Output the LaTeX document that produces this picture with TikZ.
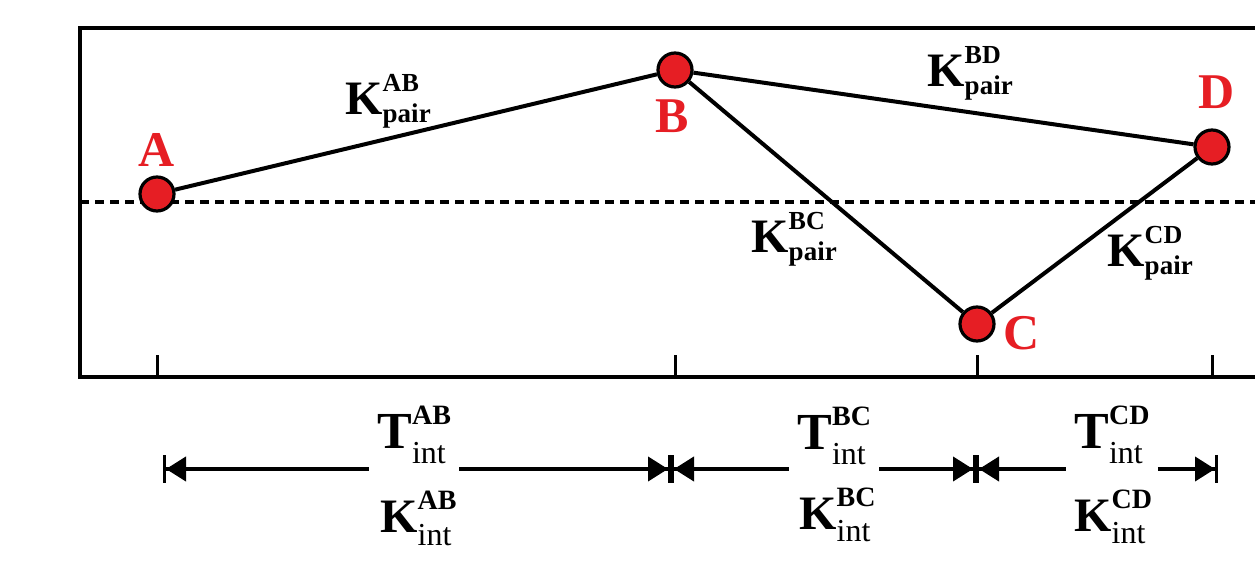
\documentclass[tikz,border=0pt]{standalone}
\usepackage{fontspec}
\setmainfont{Liberation Serif}
\usetikzlibrary{arrows.meta}
\definecolor{ptred}{RGB}{230,30,36}

% letter with stacked super- and subscript: #4 raise, #5 drop
\newdimen\qtywd
\newcommand{\qty}[5]{\textbf{#1}%
  \setbox0=\hbox{#2}\setbox2=\hbox{#3}%
  \ifdim\wd0>\wd2 \qtywd=\wd0 \else \qtywd=\wd2 \fi
  \rlap{\raise#4\box0}\rlap{\lower#5\box2}\kern\qtywd}
\newcommand{\supf}{\fontsize{13}{13}\selectfont\bfseries}
\newcommand{\supg}{\fontsize{14}{14}\selectfont\bfseries}
\newcommand{\subf}{\fontsize{13.5}{14}\selectfont\bfseries}
\newcommand{\subg}{\fontsize{16}{16}\selectfont}

\tikzset{
  ptnode/.style={circle, draw=black, line width=1.6pt, fill=ptred,
    minimum size=17pt, inner sep=0pt},
  ptname/.style={text=ptred, font=\fontsize{25}{30}\selectfont\bfseries,
    anchor=base, inner sep=0pt},
  klabel/.style={anchor=base west, inner sep=0pt,
    font=\fontsize{24}{28}\selectfont},
  tlabel/.style={anchor=base west, inner sep=0pt,
    font=\fontsize{26}{30}\selectfont},
  frame/.style={line width=2.2pt},
  link/.style={line width=2pt},
  dimline/.style={line width=2pt},
  tipl/.style={{Bar[width=14pt,line width=1.5pt]Triangle[length=10pt,width=12pt]}-, shorten >=4pt},
  tipr/.style={-{Triangle[length=10pt,width=12pt]Bar[width=14pt,line width=1.5pt]}, shorten <=4pt},
}

\begin{document}
\begin{tikzpicture}[x=0.5pt, y=-0.5pt]
  \useasboundingbox (0,0) rectangle (1255,561);

  % frame, zero line, ticks
  \draw[frame] (1255,28) -- (80,28) -- (80,377) -- (1255,377);
  \draw[link, dash pattern=on 4.5pt off 3pt] (80,202) -- (1255,202);
  \foreach \x in {157,675,977,1212}
    \draw[line width=1.5pt] (\x,377) -- (\x,355);

  % points
  \node[ptnode] (a) at (157,194) {};
  \node[ptnode] (b) at (675,70) {};
  \node[ptnode] (c) at (977,324) {};
  \node[ptnode] (d) at (1212,147) {};
  \node[ptname] (la) at (157,167) {A};
  \node[ptname] (lb) at (672,133) {B};
  \node[ptname] (lc) at (1022,350) {C};
  \node[ptname] (ld) at (1217,109) {D};

  \draw[link] (a) -- (b);
  \draw[link] (b) -- (d);
  \draw[link] (b) -- (c);
  \draw[link] (c) -- (d);

  \node[klabel] (pab) at (345,115) {\qty{K}{\supf AB}{\subf pair}{11.5pt}{4pt}};
  \node[klabel] (pbd) at (927,87) {\qty{K}{\supf BD}{\subf pair}{11.5pt}{4pt}};
  \node[klabel] (pbc) at (751,253) {\qty{K}{\supf BC}{\subf pair}{11.5pt}{4pt}};
  \node[klabel] (pcd) at (1107,267) {\qty{K}{\supf CD}{\subf pair}{11.5pt}{4pt}};

  % intervals
  \coordinate (q1) at (163,469);
  \coordinate (q2) at (671,469);
  \coordinate (q3) at (976,469);
  \coordinate (q4) at (1218,469);

  \node[tlabel] (tab) at (377,449) {\qty{T}{\supg AB}{\subg int}{12pt}{7.5pt}};
  \node[tlabel] (tbc) at (797,450) {\qty{T}{\supg BC}{\subg int}{12pt}{7.5pt}};
  \node[tlabel] (tcd) at (1074,449) {\qty{T}{\supg CD}{\subg int}{12pt}{7.5pt}};
  \node[klabel] (kab) at (380,533) {\qty{K}{\supg AB}{\subg int}{11.5pt}{6pt}};
  \node[klabel] (kbc) at (799,530) {\qty{K}{\supg BC}{\subg int}{11.5pt}{6pt}};
  \node[klabel] (kcd) at (1074,531) {\qty{K}{\supg CD}{\subg int}{11.5pt}{6pt}};

  \draw[dimline, tipl] (q1) -- (q1 -| tab.west);
  \draw[dimline, tipr] (q2 -| tab.east) -- (q2);
  \draw[dimline, tipl] (q2) -- (q2 -| tbc.west);
  \draw[dimline, tipr] (q3 -| tbc.east) -- (q3);
  \draw[dimline, tipl] (q3) -- (q3 -| tcd.west);
  \draw[dimline, tipr] (q4 -| tcd.east) -- (q4);
\end{tikzpicture}
\end{document}
